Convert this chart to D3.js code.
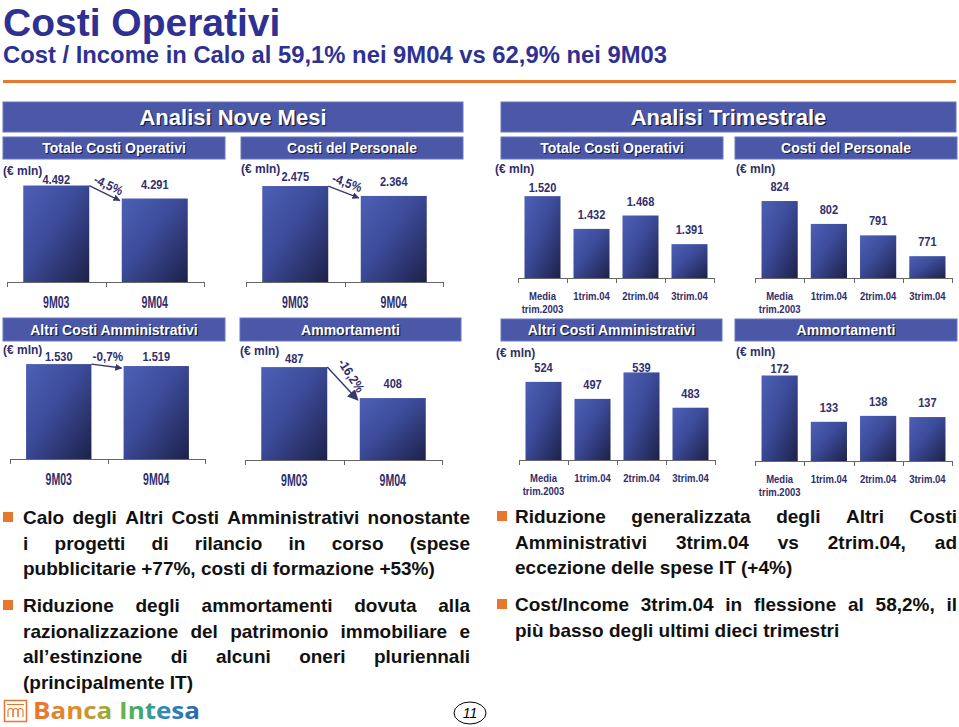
<!DOCTYPE html>
<html><head><meta charset="utf-8">
<script src="https://cdn.jsdelivr.net/npm/d3@7/dist/d3.min.js"></script>
<style>body{margin:0;background:#fff;}svg{display:block;}</style>
</head><body>
<svg id="chart" width="959" height="727"></svg>
<script>
// ---------- DATA ----------
const nineMonthCats = ["9M03", "9M04"];
const quarterCats = ["Media trim.2003", "1trim.04", "2trim.04", "3trim.04"];
const totaleCosti9M = [4492, 4291];
const personale9M = [2475, 2364];
const altriAmm9M = [1530, 1519];
const ammortamenti9M = [487, 408];
const totaleCostiQ = [1520, 1432, 1468, 1391];
const personaleQ = [824, 802, 791, 771];
const altriAmmQ = [524, 497, 539, 483];
const ammortamentiQ = [172, 133, 138, 137];
const changes9M = ["-4,5%", "-4,5%", "-0,7%", "-16,2%"];
const sectionTitles = ["Analisi Nove Mesi", "Analisi Trimestrale"];
const panelTitles = ["Totale Costi Operativi", "Costi del Personale", "Altri Costi Amministrativi", "Ammortamenti"];
const unitLabel = "(€ mln)";

// ---------- SETUP ----------
const svg = d3.select("#chart");
const NAVY = "#2e3192", TXT = "#302e6c", HDR = "#4b58a8", ORANGE = "#e8772e";
const FONT = "'Liberation Sans', Arial, Helvetica, sans-serif";
const it = d3.formatLocale({decimal: ",", thousands: ".", grouping: [3], currency: ["€", ""]});
const fmt = it.format(",");

const defs = svg.append("defs");
const grad = defs.append("linearGradient").attr("id", "barGrad")
  .attr("x1", 0).attr("y1", 0).attr("x2", 1).attr("y2", 1);
grad.append("stop").attr("offset", "0%").attr("stop-color", "#4d60b6");
grad.append("stop").attr("offset", "45%").attr("stop-color", "#3c4b99");
grad.append("stop").attr("offset", "100%").attr("stop-color", "#1d2149");
defs.append("marker").attr("id", "arrowHead").attr("viewBox", "0 0 10 10")
  .attr("refX", 9).attr("refY", 5).attr("markerWidth", 7).attr("markerHeight", 7)
  .attr("markerUnits", "userSpaceOnUse").attr("orient", "auto")
  .append("path").attr("d", "M0,0 L10,5 L0,10 z").attr("fill", "#34386f");
defs.append("marker").attr("id", "arrowHeadBig").attr("viewBox", "0 0 10 10")
  .attr("refX", 9).attr("refY", 5).attr("markerWidth", 11).attr("markerHeight", 11)
  .attr("markerUnits", "userSpaceOnUse").attr("orient", "auto")
  .append("path").attr("d", "M0,0 L10,5 L0,10 z").attr("fill", "#34386f");
const logoGrad = defs.append("linearGradient").attr("id", "logoGrad")
  .attr("gradientUnits", "userSpaceOnUse").attr("x1", 33).attr("x2", 200).attr("y1", 0).attr("y2", 0);
[["0%", "#ea7430"], ["25%", "#e2892e"], ["40%", "#b0a336"], ["52%", "#72b447"], ["66%", "#3ba775"], ["80%", "#2e86bf"], ["100%", "#2b66b3"]]
  .forEach(([o, c]) => logoGrad.append("stop").attr("offset", o).attr("stop-color", c));

function stext(g, x, y, str, size, sx, anchor, fill) {
  return g.append("text")
    .attr("transform", `translate(${x},${y}) scale(${sx},1)`)
    .attr("text-anchor", anchor)
    .style("font-family", FONT).style("font-weight", "bold").style("font-size", size + "px")
    .attr("fill", fill).text(str);
}

// ---------- TITLE ----------
svg.append("text").attr("x", 3).attr("y", 36).style("font-family", FONT).style("font-weight", "bold")
  .style("font-size", "39px").attr("fill", NAVY).text("Costi Operativi");
svg.append("text").attr("x", 3).attr("y", 63).style("font-family", FONT).style("font-weight", "bold")
  .style("font-size", "23.8px").attr("fill", NAVY).text("Cost / Income in Calo al 59,1% nei 9M04 vs 62,9% nei 9M03");
svg.append("line").attr("x1", 3).attr("x2", 956).attr("y1", 81.5).attr("y2", 81.5)
  .attr("stroke", ORANGE).attr("stroke-width", 3);

// ---------- HEADERS ----------
function header(x, y, w, h, str, size) {
  const g = svg.append("g");
  g.append("rect").attr("x", x).attr("y", y).attr("width", w).attr("height", h)
    .attr("fill", HDR).attr("stroke", "#6a76bd").attr("stroke-width", 1);
  const cx = x + w / 2, cy = y + h / 2 + size * 0.36;
  g.append("text").attr("x", cx + 1.2).attr("y", cy + 1.2).attr("text-anchor", "middle")
    .style("font-family", FONT).style("font-weight", "bold").style("font-size", size + "px")
    .attr("fill", "#1a1c3a").text(str);
  g.append("text").attr("x", cx).attr("y", cy).attr("text-anchor", "middle")
    .style("font-family", FONT).style("font-weight", "bold").style("font-size", size + "px")
    .attr("fill", "#fff").text(str);
}
header(3, 102, 460, 30, sectionTitles[0], 22);
header(501, 102, 455, 30, sectionTitles[1], 22);

// ---------- PANELS ----------
const panels = [
  {t: 0, cats: nineMonthCats, vals: totaleCosti9M, box: [3, 137, 222, 22], ax: [7, 204, 282], dom: [3000, 4500], top: 185, ceil: 184, unit: [3, 175], ch: changes9M[0], rot: 25, off: 9},
  {t: 1, cats: nineMonthCats, vals: personale9M, box: [241, 137, 222, 22], ax: [246, 443, 282], dom: [1400, 2500], top: 183.8, ceil: 181, unit: [241, 173], ch: changes9M[1], rot: 20, off: 10},
  {t: 0, cats: quarterCats, vals: totaleCostiQ, box: [501, 137, 222, 22], ax: [518, 714, 278], dom: [1300, 1550], top: 185, ceil: 191.5, unit: [495, 173]},
  {t: 1, cats: quarterCats, vals: personaleQ, box: [735, 137, 222, 22], ax: [755, 952, 278], dom: [750, 850], top: 174, ceil: 191, unit: [736, 173]},
  {t: 2, cats: nineMonthCats, vals: altriAmm9M, box: [3, 318, 222, 23], ax: [10, 205, 459], dom: [1000, 1550], top: 360.5, ceil: 360.5, unit: [3, 354], ch: changes9M[2], rot: 0, off: 10},
  {t: 3, cats: nineMonthCats, vals: ammortamenti9M, box: [240, 318, 221, 23], ax: [245, 442, 460], dom: [250, 500], top: 362, ceil: 362.5, unit: [240, 355], ch: changes9M[3], rot: 57, off: 12},
  {t: 2, cats: quarterCats, vals: altriAmmQ, box: [501, 319, 221, 22], ax: [519, 715, 460], dom: [400, 550], top: 365.5, ceil: 371.5, unit: [496, 357]},
  {t: 3, cats: quarterCats, vals: ammortamentiQ, box: [735, 319, 222, 22], ax: [755, 952, 461], dom: [100, 180], top: 366, ceil: 372.5, unit: [736, 356]}
];

panels.forEach(p => {
  header(p.box[0], p.box[1], p.box[2], p.box[3], panelTitles[p.t], 14);
  const g = svg.append("g");
  const nine = p.cats.length === 2;
  const pi = nine ? 0.33 : 0.265;
  const x = d3.scaleBand().domain(p.cats).range([p.ax[0], p.ax[1]]).paddingInner(pi).paddingOuter(pi / 2);
  const y = d3.scaleLinear().domain(p.dom).range([p.ax[2], p.top]);
  const data = p.cats.map((c, i) => ({c, v: p.vals[i]}));

  g.selectAll("rect.bar").data(data).join("rect").attr("class", "bar")
    .attr("x", d => x(d.c)).attr("width", x.bandwidth())
    .attr("y", d => y(d.v)).attr("height", d => p.ax[2] - y(d.v))
    .attr("fill", "url(#barGrad)");

  // axis line with tick marks at band boundaries
  const ticks = d3.range(p.cats.length + 1).map(i => p.ax[0] + i * x.step());
  g.append("line").attr("x1", p.ax[0]).attr("x2", p.ax[1]).attr("y1", p.ax[2] + 0.5).attr("y2", p.ax[2] + 0.5)
    .attr("stroke", "#666").attr("stroke-width", 1);
  g.selectAll("line.tk").data(ticks).join("line").attr("class", "tk")
    .attr("x1", d => Math.round(d) + 0.5).attr("x2", d => Math.round(d) + 0.5)
    .attr("y1", p.ax[2]).attr("y2", p.ax[2] + 5).attr("stroke", "#666");

  // value labels
  data.forEach(d => {
    const ly = Math.max(y(d.v) - 10, p.ceil);
    stext(g, x(d.c) + x.bandwidth() / 2, ly, fmt(d.v), 13, 0.85, "middle", TXT);
  });

  // category labels
  data.forEach(d => {
    const cx = x(d.c) + x.bandwidth() / 2;
    if (nine) {
      stext(g, cx, p.ax[2] + 25.5, d.c, 16.5, 0.64, "middle", TXT);
    } else {
      const parts = d.c.split(" ");
      parts.forEach((s, k) => stext(g, cx, p.ax[2] + 21.5 + k * 13, s, 10, 0.95, "middle", TXT));
    }
  });

  // unit
  stext(g, p.unit[0], p.unit[1], unitLabel, 12, 1, "start", TXT);

  // change arrow
  if (p.ch) {
    const x0 = x(data[0].c) + x.bandwidth(), y0 = y(data[0].v);
    const x1 = x(data[1].c) - 2, y1 = y(data[1].v) + 2;
    g.append("line").attr("x1", x0).attr("y1", y0).attr("x2", x1).attr("y2", y1)
      .attr("stroke", "#34386f").attr("stroke-width", 1.4)
      .attr("marker-end", p.t === 3 ? "url(#arrowHeadBig)" : "url(#arrowHead)");
    const a = Math.atan2(y1 - y0, x1 - x0);
    const mx = (x0 + x1) / 2 + Math.sin(a) * p.off, my = (y0 + y1) / 2 - Math.cos(a) * p.off;
    g.append("text").attr("transform", `translate(${mx},${my}) rotate(${p.rot}) scale(0.9,1)`)
      .attr("text-anchor", "middle").attr("dy", "0.35em")
      .style("font-family", FONT).style("font-weight", "bold").style("font-size", "13px")
      .attr("fill", TXT).text(p.ch);
  }
});

// ---------- BULLET TEXT ----------
const leftParas = [
  ["Calo degli Altri Costi Amministrativi nonostante", "i progetti di rilancio in corso (spese", "pubblicitarie +77%, costi di formazione +53%)"],
  ["Riduzione degli ammortamenti dovuta alla", "razionalizzazione del patrimonio immobiliare e", "all’estinzione di alcuni oneri pluriennali", "(principalmente IT)"]
];
const rightParas = [
  ["Riduzione generalizzata degli Altri Costi", "Amministrativi 3trim.04 vs 2trim.04, ad", "eccezione delle spese IT (+4%)"],
  ["Cost/Income 3trim.04 in flessione al 58,2%, il", "più basso degli ultimi dieci trimestri"]
];
const body = svg.append("g").style("font-family", FONT).style("font-weight", "bold")
  .style("font-size", "19px").attr("fill", "#111");
function para(lines, bx, tx, width, y0) {
  body.append("rect").attr("x", bx).attr("y", y0 - 12).attr("width", 10).attr("height", 10).attr("fill", ORANGE);
  lines.forEach((line, i) => {
    const words = line.split(" ");
    const y = y0 + i * 25.5;
    const nodes = words.map(w => body.append("text").attr("y", y).text(w));
    const ws = nodes.map(n => n.node().getComputedTextLength());
    const last = i === lines.length - 1;
    const gap = (last || words.length < 2) ? 19 * 0.278 : (width - d3.sum(ws)) / (words.length - 1);
    let cx = tx;
    nodes.forEach((n, k) => { n.attr("x", cx); cx += ws[k] + gap; });
  });
}
para(leftParas[0], 3, 23, 447, 524);
para(leftParas[1], 3, 23, 447, 612);
para(rightParas[0], 497, 515, 442, 523);
para(rightParas[1], 497, 515, 442, 611);

// ---------- FOOTER ----------
const logo = svg.append("g");
logo.append("rect").attr("x", 4.5).attr("y", 700.5).attr("width", 22).attr("height", 21)
  .attr("fill", "none").attr("stroke", ORANGE).attr("stroke-width", 1.5);
logo.append("line").attr("x1", 7).attr("x2", 24).attr("y1", 704.5).attr("y2", 704.5).attr("stroke", ORANGE).attr("stroke-width", 1);
[8, 13, 18].forEach(ax => logo.append("path")
  .attr("d", `M${ax},717 L${ax},710 Q${ax + 2.5},706.5 ${ax + 5},710 L${ax + 5},717`)
  .attr("fill", "none").attr("stroke", ORANGE).attr("stroke-width", 1.1));
logo.append("text").attr("x", 33).attr("y", 719).attr("textLength", 167).attr("lengthAdjust", "spacingAndGlyphs")
  .style("font-family", "'Open Sans', Lato, sans-serif").style("font-weight", "bold").style("font-size", "24px")
  .attr("fill", "url(#logoGrad)").text("Banca Intesa");
svg.append("ellipse").attr("cx", 470).attr("cy", 713).attr("rx", 16).attr("ry", 11)
  .attr("fill", "none").attr("stroke", "#000").attr("stroke-width", 1);
svg.append("text").attr("x", 470).attr("y", 718).attr("text-anchor", "middle")
  .style("font-family", FONT).style("font-style", "italic").style("font-size", "14px").text("11");
</script>
</body></html>
